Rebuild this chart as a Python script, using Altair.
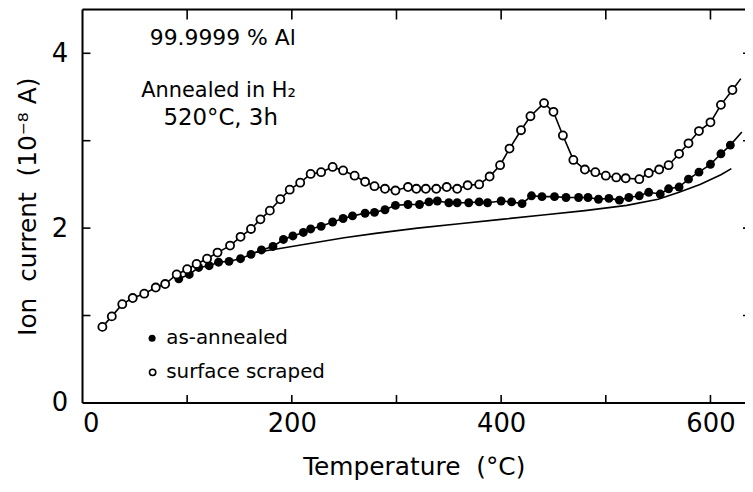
import altair as alt
import pandas as pd

# surface scraped (open circles)
open_x = [19, 28, 38, 48, 59, 70, 79, 90, 100, 109, 119, 129, 141, 151, 161, 170, 179, 189, 198, 208, 218,
          228, 239, 249, 260, 270, 279, 289, 299, 311, 319, 328, 338, 348, 358, 368, 379, 389, 399, 408, 419,
          428, 441, 450, 459, 469, 480, 490, 500, 510, 519, 532, 541, 551, 560, 570, 579, 589, 600, 610, 621]
open_y = [0.87, 0.99, 1.13, 1.20, 1.25, 1.32, 1.36, 1.47, 1.53, 1.59, 1.65, 1.72, 1.80, 1.90, 1.99, 2.10, 2.20,
          2.33, 2.44, 2.52, 2.62, 2.64, 2.70, 2.66, 2.60, 2.53, 2.48, 2.45, 2.43, 2.47, 2.45, 2.45, 2.45, 2.47,
          2.45, 2.49, 2.50, 2.59, 2.72, 2.91, 3.12, 3.28, 3.43, 3.33, 3.06, 2.78, 2.67, 2.64, 2.60, 2.58, 2.57,
          2.56, 2.63, 2.67, 2.72, 2.85, 2.97, 3.11, 3.21, 3.41, 3.58]
open_line_end = (629, 3.71)

# as-annealed (filled circles)
fill_x = [92, 102, 111, 121, 130, 140, 151, 161, 171, 182, 192, 201, 211, 218, 228, 239, 249, 258, 270, 279,
          289, 299, 311, 322, 331, 339, 350, 358, 369, 379, 387, 400, 410, 420, 429, 439, 451, 462, 474, 483,
          493, 503, 513, 522, 532, 541, 552, 560, 570, 579, 589, 600, 610, 619]
fill_y = [1.42, 1.47, 1.55, 1.57, 1.61, 1.62, 1.65, 1.70, 1.75, 1.79, 1.87, 1.91, 1.95, 1.99, 2.02, 2.07, 2.11,
          2.14, 2.17, 2.18, 2.21, 2.26, 2.27, 2.27, 2.30, 2.31, 2.29, 2.29, 2.29, 2.30, 2.29, 2.31, 2.30, 2.28,
          2.37, 2.36, 2.36, 2.35, 2.35, 2.35, 2.33, 2.34, 2.32, 2.35, 2.37, 2.41, 2.39, 2.45, 2.47, 2.56, 2.64,
          2.73, 2.85, 2.95]
fill_line_end = (630, 3.10)

# plain solid curve
solid_x = [165, 190, 220, 250, 280, 320, 360, 400, 440, 480, 520, 550, 570, 590, 610, 620]
solid_y = [1.72, 1.77, 1.83, 1.89, 1.94, 2.00, 2.05, 2.10, 2.15, 2.20, 2.26, 2.33, 2.41, 2.50, 2.61, 2.68]

x_label_vals = [0, 200, 400, 600]
x_tick_vals = [100, 200, 300, 400, 500, 600]
y_label_vals = [0, 2, 4]
y_tick_vals = [1, 2, 3, 4]

notes = ["99.9999 % Al", "Annealed in H\u2082", "520\u00b0C, 3h"]
notes_x = [134, 130, 132]
notes_y = [4.17, 3.57, 3.26]
notes_size = [22, 21, 23]

legend_labels = ["as-annealed", "surface scraped"]
legend_x = [66.5, 67]
legend_y = [0.74, 0.35]
legend_tx = [80, 80]

NB = "\u00a0"
x_title = "Temperature" + NB + NB + "(\u00b0C)"
y_title = "Ion" + NB + NB + "current" + NB + NB + "(10\u207b\u2078 A)"

FONT = "DejaVu Sans"
W, H = 667, 396
xs = alt.Scale(domain=[0, 633], nice=False, zero=False)
ys = alt.Scale(domain=[0, 4.5], nice=False, zero=False)

df_open = pd.DataFrame({"x": open_x, "y": open_y})
df_open_line = pd.DataFrame({"x": open_x + [open_line_end[0]], "y": open_y + [open_line_end[1]]})
df_fill = pd.DataFrame({"x": fill_x, "y": fill_y})
df_fill_line = pd.DataFrame({"x": fill_x + [fill_line_end[0]], "y": fill_y + [fill_line_end[1]]})
df_solid = pd.DataFrame({"x": solid_x, "y": solid_y})

xaxis = alt.Axis(values=x_label_vals, ticks=False, domain=False, grid=False, labelFontSize=26,
                 labelFont=FONT, labelColor="black", labelPadding=8, format="d",
                 title=x_title,
                 titleFont=FONT, titleFontSize=25, titleFontWeight="normal", titleColor="black",
                 titlePadding=18)
yaxis = alt.Axis(values=y_label_vals, ticks=False, domain=False, grid=False, labelFontSize=26,
                 labelFont=FONT, labelColor="black", labelPadding=15, format="d",
                 title=y_title,
                 titleFont=FONT, titleFontSize=25, titleFontWeight="normal", titleColor="black",
                 titlePadding=11)

base_open_line = alt.Chart(df_open_line).mark_line(color="black", strokeWidth=1.6).encode(
    x=alt.X("x:Q", scale=xs, axis=xaxis), y=alt.Y("y:Q", scale=ys, axis=yaxis))
fill_line = alt.Chart(df_fill_line).mark_line(color="black", strokeWidth=1.6).encode(
    x=alt.X("x:Q", scale=xs), y=alt.Y("y:Q", scale=ys))
solid_line = alt.Chart(df_solid).mark_line(color="black", strokeWidth=1.6).encode(
    x=alt.X("x:Q", scale=xs), y=alt.Y("y:Q", scale=ys))
fill_pts = alt.Chart(df_fill).mark_point(shape="circle", filled=True, color="black", size=80, opacity=1).encode(
    x=alt.X("x:Q", scale=xs), y=alt.Y("y:Q", scale=ys))
open_pts = alt.Chart(df_open).mark_point(shape="circle", filled=True, fill="white", stroke="black",
                                         strokeWidth=1.8, size=66, opacity=1, fillOpacity=1).encode(
    x=alt.X("x:Q", scale=xs), y=alt.Y("y:Q", scale=ys))

# frame (left, bottom, top) and inward ticks
df_xt = pd.DataFrame({"x": x_tick_vals})
df_yt = pd.DataFrame({"y": y_tick_vals})
frame_l = alt.Chart(df_yt.iloc[[0]]).mark_rule(color="black", strokeWidth=2).encode(
    x=alt.value(0), y=alt.value(0), y2=alt.value(H))
frame_b = alt.Chart(df_yt.iloc[[0]]).mark_rule(color="black", strokeWidth=2).encode(
    y=alt.value(H), x=alt.value(0), x2=alt.value(W))
frame_t = alt.Chart(df_yt.iloc[[0]]).mark_rule(color="black", strokeWidth=2).encode(
    y=alt.value(0), x=alt.value(0), x2=alt.value(W + 3))
bt = alt.Chart(df_xt).mark_rule(color="black", strokeWidth=1.6).encode(
    x=alt.X("x:Q", scale=xs), y=alt.value(H), y2=alt.value(H - 8))
tt = alt.Chart(df_xt).mark_rule(color="black", strokeWidth=1.6).encode(
    x=alt.X("x:Q", scale=xs), y=alt.value(0), y2=alt.value(10))
lt = alt.Chart(df_yt).mark_rule(color="black", strokeWidth=1.6).encode(
    y=alt.Y("y:Q", scale=ys), x=alt.value(0), x2=alt.value(8))
rt = alt.Chart(df_yt).mark_rule(color="black", strokeWidth=1.6).encode(
    y=alt.Y("y:Q", scale=ys), x=alt.value(W - 2), x2=alt.value(W + 2))

df_notes = pd.DataFrame({"t": notes, "x": notes_x, "y": notes_y})
note_marks = alt.layer(*[
    alt.Chart(df_notes.iloc[[i]]).mark_text(font=FONT, fontSize=int(notes_size[i]), color="black",
                                             align="center", baseline="middle").encode(
        x=alt.X("x:Q", scale=xs), y=alt.Y("y:Q", scale=ys), text="t:N")
    for i in range(len(notes))
])

df_leg = pd.DataFrame({"t": legend_labels, "x": legend_x, "y": legend_y, "tx": legend_tx})
leg_fill = alt.Chart(df_leg.iloc[[0]]).mark_point(shape="circle", filled=True, color="black", size=50,
                                                  opacity=1).encode(
    x=alt.X("x:Q", scale=xs), y=alt.Y("y:Q", scale=ys))
leg_open = alt.Chart(df_leg.iloc[[1]]).mark_point(shape="circle", filled=True, fill="white", stroke="black",
                                                  strokeWidth=1.6, size=40, opacity=1).encode(
    x=alt.X("x:Q", scale=xs), y=alt.Y("y:Q", scale=ys))
leg_text = alt.Chart(df_leg).mark_text(font=FONT, fontSize=20, color="black", align="left",
                                       baseline="middle").encode(
    x=alt.X("tx:Q", scale=xs), y=alt.Y("y:Q", scale=ys), text="t:N")

chart = alt.layer(base_open_line, fill_line, solid_line, fill_pts, open_pts, frame_l, frame_b, frame_t,
                  bt, tt, lt, rt, note_marks, leg_fill, leg_open, leg_text).properties(
    width=W, height=H,
    autosize=alt.AutoSizeParams(type="none"),
    padding={"left": 75, "top": 0, "right": 0, "bottom": 76},
).configure_view(stroke=None).configure(background="white")

chart.save("out.html", embed_options={"renderer": "svg", "actions": False})
